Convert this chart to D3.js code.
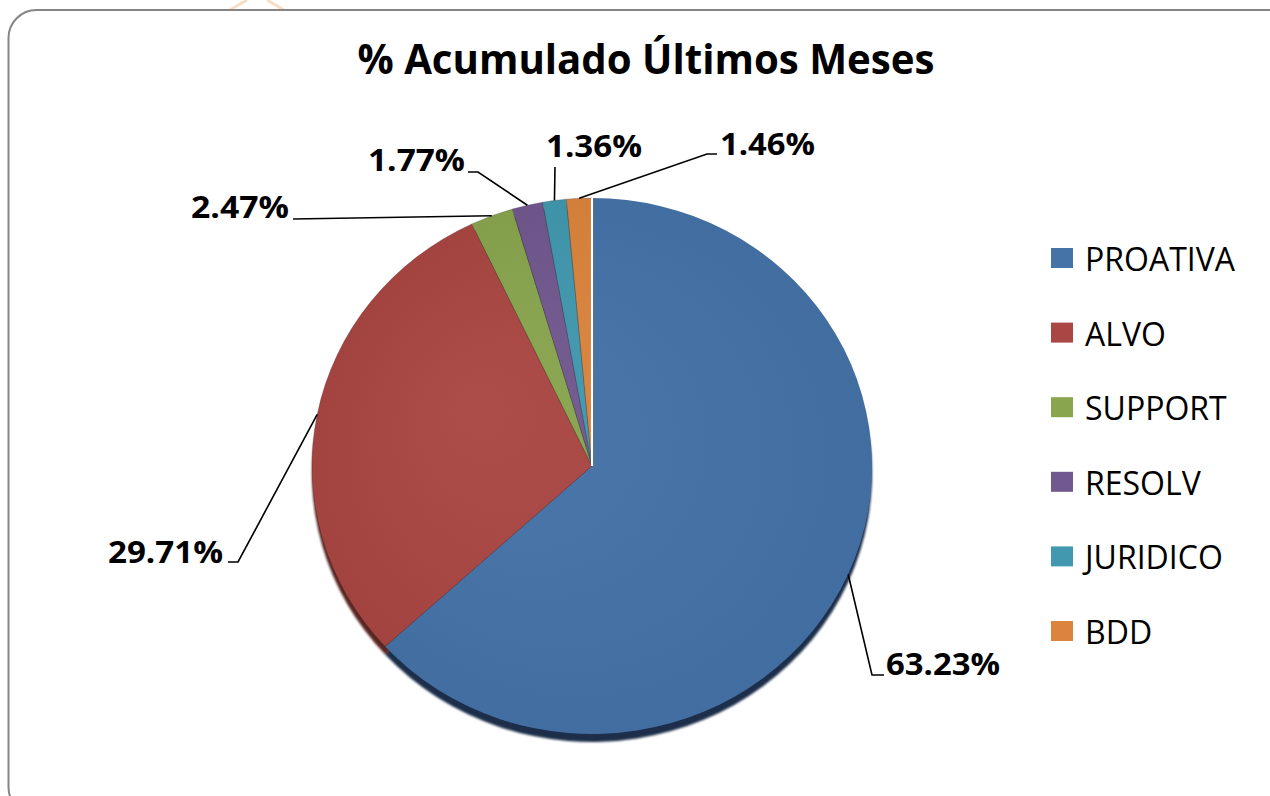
<!DOCTYPE html>
<html>
<head>
<meta charset="utf-8">
<script src="https://cdn.jsdelivr.net/npm/d3@7"></script>
<style>
  html, body { margin: 0; padding: 0; background: #fff; }
  svg { display: block; }
</style>
</head>
<body>
<svg id="pie-chart" width="1270" height="796"></svg>
<script>
// data
const categories = ['PROATIVA', 'ALVO', 'SUPPORT', 'RESOLV', 'JURIDICO', 'BDD'];
const values = [63.23, 29.71, 2.47, 1.77, 1.36, 1.46];
const labels = ['63.23%', '29.71%', '2.47%', '1.77%', '1.36%', '1.46%'];
const colors = ['#4572A7', '#AA4643', '#89A54E', '#71588F', '#4198AF', '#DB843D'];
const shadowColors = ['#1d2f4a', '#5a2523', '#44542a', '#3a2d4a', '#22505c', '#6e4220'];

// label placement (elbow point, end of leader, text anchor)
const labelLayout = [
  { elbow: [872, 675], end: [884, 675], tx: 886, ty: 675, anchor: 'start', w: 114 },
  { elbow: [238, 562], end: [228, 562], tx: 223, ty: 563, anchor: 'end', w: 115 },
  { elbow: [293, 219], end: [293, 219], tx: 289, ty: 218, anchor: 'end', w: 98 },
  { elbow: [478, 172], end: [468, 172], tx: 465, ty: 171, anchor: 'end', w: 97 },
  { elbow: [555, 167], end: [555, 167], tx: 546, ty: 157, anchor: 'start', w: 96 },
  { elbow: [707, 154], end: [717, 154], tx: 720, ty: 155, anchor: 'start', w: 95 }
];

const svg = d3.select('#pie-chart');
const cx = 592, cy = 466, rx = 280, ry = 268;
const font = "'Open Sans', 'DejaVu Sans', sans-serif";

// slide background decoration and rounded frame
svg.append('path')
  .attr('d', 'M230,10 L247,0 M267,0 L284,10')
  .attr('fill', 'none')
  .attr('stroke', '#f6dfc6')
  .attr('stroke-width', 3);

svg.append('rect')
  .attr('x', 8.5).attr('y', 10)
  .attr('width', 1290).attr('height', 805)
  .attr('rx', 28).attr('ry', 28)
  .attr('fill', '#fff')
  .attr('stroke', '#858585')
  .attr('stroke-width', 2);

// title
svg.append('text')
  .attr('x', 646).attr('y', 74)
  .attr('text-anchor', 'middle')
  .attr('font-family', font)
  .attr('font-weight', 'bold')
  .attr('font-size', 41)
  .attr('textLength', 577)
  .attr('lengthAdjust', 'spacingAndGlyphs')
  .attr('fill', '#000')
  .text('% Acumulado Últimos Meses');

const pie = d3.pie().sort(null).value((d) => d);
const arcs = pie(values);
const arc = d3.arc().innerRadius(0).outerRadius(ry);

const defs = svg.append('defs');
const shade = defs.append('radialGradient')
  .attr('id', 'shade')
  .attr('gradientUnits', 'userSpaceOnUse')
  .attr('cx', 0).attr('cy', 0).attr('r', ry)
  .attr('fx', -120).attr('fy', -60);
shade.append('stop').attr('offset', '0%').attr('stop-color', '#fff').attr('stop-opacity', 0.04);
shade.append('stop').attr('offset', '100%').attr('stop-color', '#000').attr('stop-opacity', 0.04);

const blur = defs.append('filter').attr('id', 'soft');
blur.append('feGaussianBlur').attr('stdDeviation', 1);

// 3D side (thickness) under the pie
svg.append('g')
  .attr('transform', `translate(${cx},${cy + 8}) scale(${rx / ry},1)`)
  .attr('filter', 'url(#soft)')
  .selectAll('path')
  .data(arcs)
  .enter()
  .append('path')
  .attr('d', arc)
  .attr('fill', (d, i) => shadowColors[i]);

const g = svg.append('g')
  .attr('transform', `translate(${cx},${cy}) scale(${rx / ry},1)`);

g.selectAll('.slice')
  .data(arcs)
  .enter()
  .append('path')
  .attr('class', 'slice')
  .attr('d', arc)
  .attr('fill', (d, i) => colors[i])
  .attr('stroke', (d, i) => (i === 0 ? 'none' : 'rgba(40,40,40,0.3)'))
  .attr('stroke-width', 0.8);

g.selectAll('.shade')
  .data(arcs)
  .enter()
  .append('path')
  .attr('class', 'shade')
  .attr('d', arc)
  .attr('fill', 'url(#shade)');

// white gap where the first slice starts
g.append('line')
  .attr('x1', 0).attr('y1', 0)
  .attr('x2', 0).attr('y2', -ry)
  .attr('stroke', '#fff')
  .attr('stroke-width', 2);

// leader lines and value labels
const edgePoint = (d) => {
  const a = (d.startAngle + d.endAngle) / 2;
  return [cx + rx * Math.sin(a), cy - ry * Math.cos(a)];
};

svg.selectAll('.leader')
  .data(arcs)
  .enter()
  .append('polyline')
  .attr('class', 'leader')
  .attr('points', (d, i) => [edgePoint(d), labelLayout[i].elbow, labelLayout[i].end].map((p) => p.join(',')).join(' '))
  .attr('fill', 'none')
  .attr('stroke', '#000')
  .attr('stroke-width', 1.6);

svg.selectAll('.value-label')
  .data(arcs)
  .enter()
  .append('text')
  .attr('class', 'value-label')
  .attr('x', (d, i) => labelLayout[i].tx)
  .attr('y', (d, i) => labelLayout[i].ty)
  .attr('text-anchor', (d, i) => labelLayout[i].anchor)
  .attr('font-family', font)
  .attr('font-weight', 'bold')
  .attr('font-size', 31)
  .attr('textLength', (d, i) => labelLayout[i].w)
  .attr('lengthAdjust', 'spacingAndGlyphs')
  .attr('fill', '#000')
  .text((d, i) => labels[i]);

// legend
const legend = svg.append('g').attr('transform', 'translate(1051,248)');
const row = d3.scalePoint().domain(categories).range([0, 373]);

const item = legend.selectAll('.item')
  .data(categories)
  .enter()
  .append('g')
  .attr('class', 'item')
  .attr('transform', (d) => `translate(0,${row(d)})`);

item.append('rect')
  .attr('width', 22).attr('height', 20)
  .attr('fill', (d, i) => colors[i]);

item.append('text')
  .attr('x', 34).attr('y', 23)
  .attr('font-family', font)
  .attr('font-size', 32)
  .attr('fill', '#000')
  .text((d) => d);
</script>
</body>
</html>
